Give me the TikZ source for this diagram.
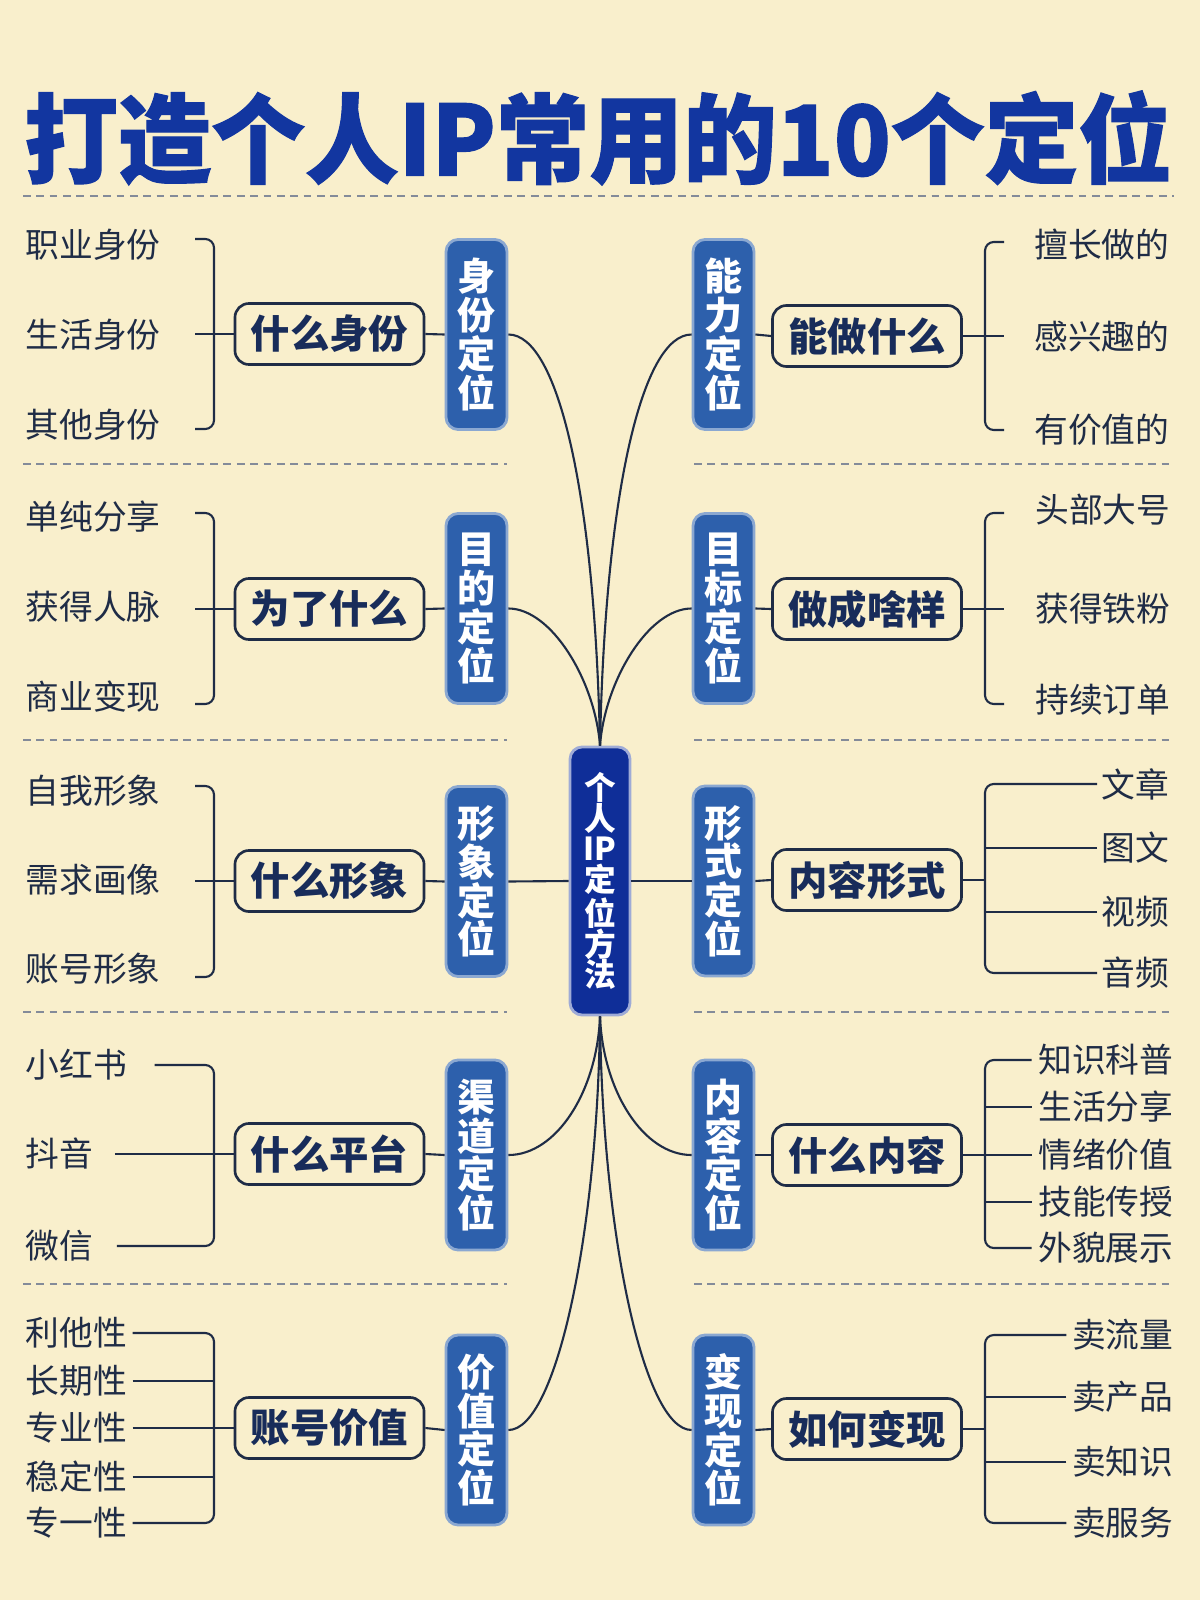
\documentclass[tikz,border=0pt]{standalone}
\usepackage{fontspec}
\setmainfont{Noto Sans CJK SC}
\definecolor{paper}{HTML}{F9EFCC}
\definecolor{ink}{HTML}{1F2C46}
\definecolor{askblue}{HTML}{182C5A}
\definecolor{catblue}{HTML}{2D60AC}
\definecolor{hubblue}{HTML}{0F2E98}
\definecolor{titleblue}{HTML}{1236A0}

\begin{document}
\begin{tikzpicture}[x=.01cm,y=-.01cm,
 item/.style={inner sep=0pt,text=ink,font=\fontsize{9.6}{11}\selectfont},
 ask/.style={draw=ink,line width=.75pt,rounded corners=4pt,fill=paper,minimum width=1.89cm,minimum height=.61cm,inner sep=0pt,text=askblue,font=\bfseries\fontsize{11.2}{13}\selectfont},
 cat/.style={fill=catblue,draw=catblue!55!white,line width=.8pt,rounded corners=3.5pt,minimum width=.61cm,minimum height=1.9cm,inner sep=0pt,align=center,text=white,font=\bfseries\fontsize{10.8}{11}\selectfont},
 hub/.style={cat,fill=hubblue,draw=hubblue!40!white,minimum width=.6cm,minimum height=2.68cm,font=\bfseries\fontsize{9}{8.7}\selectfont},
 link/.style={draw=ink,line width=.6pt},
 brace/.style={link,rounded corners=2.5pt},
 sep/.style={draw=ink!55,line width=.45pt,dash pattern=on 2.2pt off 1.6pt}]
\fill[paper] (0,0) rectangle (1200,1600);
\path[use as bounding box] (0,0) rectangle (1200,1600);
\node[inner sep=0pt,text=titleblue,font=\bfseries\fontsize{27.6}{30}\selectfont\addfontfeature{FakeBold=1.2}] (title) at (598,138) {\scalebox{.965}[1]{打造个人IP常用的10个定位}};
\draw[sep] (23,196)--(1174,196);
\foreach \y in {464,740,1012,1284} {
 \draw[sep] (23,\y)--(507,\y);
 \draw[sep] (694,\y)--(1174,\y);
}

\node[hub] (hub) at (600,881) {个\\人\\IP\\定\\位\\方\\法};

% left column
\node[cat] (c1) at (476.5,334.5) {身\\份\\定\\位};
\node[ask] (q1) at (329.5,334) {什么身份};
\foreach \t/\y [count=\i] in {职业身份/245,生活身份/335,其他身份/425}
 \node[item,anchor=west] (a\i) at (25,\y) {\t};
\coordinate (k1) at (195,334);
\draw[brace] (195,239)--(214,239)--(214,429)--(195,429);
\draw[link] (k1)--(q1.west);
\draw[link] (q1.east)--(c1.west);
\draw[link] (c1.east) .. controls +(50,0) and +(-5,-250) .. (hub.north);

\node[cat] (c2) at (476.5,608.5) {目\\的\\定\\位};
\node[ask] (q2) at (329.5,609) {为了什么};
\foreach \t/\y [count=\i] in {单纯分享/517,获得人脉/607,商业变现/697}
 \node[item,anchor=west] (b\i) at (25,\y) {\t};
\coordinate (k2) at (195,609);
\draw[brace] (195,513)--(214,513)--(214,704)--(195,704);
\draw[link] (k2)--(q2.west);
\draw[link] (q2.east)--(c2.west);
\draw[link] (c2.east) .. controls +(43,0) and +(-5,-65) .. (hub.north);

\node[cat] (c3) at (476.5,881.5) {形\\象\\定\\位};
\node[ask] (q3) at (329.5,881) {什么形象};
\foreach \t/\y [count=\i] in {自我形象/791,需求画像/880,账号形象/969}
 \node[item,anchor=west] (e\i) at (25,\y) {\t};
\coordinate (k3) at (195,881);
\draw[brace] (195,786)--(214,786)--(214,977)--(195,977);
\draw[link] (k3)--(q3.west);
\draw[link] (q3.east)--(c3.west);
\draw[link] (c3.east)--(hub.west);

\node[cat] (c4) at (476.5,1155) {渠\\道\\定\\位};
\node[ask] (q4) at (329.5,1154) {什么平台};
\foreach \t/\y [count=\i] in {小红书/1065,抖音/1154,微信/1246}
 \node[item,anchor=west] (p\i) at (25,\y) {\t};
\coordinate (sp4) at (214,1154);
\draw[brace] ([xshift=.27cm]p1.east) -| (sp4) |- ([xshift=.23cm]p3.east);
\draw[link] ([xshift=.21cm]p2.east)--(q4.west);
\draw[link] (q4.east)--(c4.west);
\draw[link] (c4.east) .. controls +(48,0) and +(-3,75) .. (hub.south);

\node[cat] (c5) at (476.5,1430) {价\\值\\定\\位};
\node[ask] (q5) at (329.5,1428) {账号价值};
\foreach \t/\y [count=\i] in {利他性/1333,长期性/1381,专业性/1428,稳定性/1477,专一性/1523}
 \node[item,anchor=west] (v\i) at (25,\y) {\t};
\coordinate (sp5) at (214,1428);
\draw[brace] ([xshift=.05cm]v1.east) -| (sp5) |- ([xshift=.05cm]v5.east);
\foreach \i in {2,4}
 \draw[link] ([xshift=.05cm]v\i.east)--(v\i.east -| sp5);
\draw[link] ([xshift=.05cm]v3.east)--(q5.west);
\draw[link] (q5.east)--(c5.west);
\draw[link] (c5.east) .. controls +(48,0) and +(-2,215) .. (hub.south);

% right column
\node[cat] (d1) at (723.5,334.5) {能\\力\\定\\位};
\node[ask] (r1) at (867,336) {能做什么};
\foreach \t/\y [count=\i] in {擅长做的/245,感兴趣的/337,有价值的/430}
 \node[item,anchor=east] (g\i) at (1170,\y) {\t};
\coordinate (k6) at (1004,336);
\draw[brace] (1004,242)--(985,242)--(985,430)--(1004,430);
\draw[link] (r1.east)--(k6);
\draw[link] (d1.east)--(r1.west);
\draw[link] (d1.west) .. controls +(-50,0) and +(5,-250) .. (hub.north);

\node[cat] (d2) at (723.5,608.5) {目\\标\\定\\位};
\node[ask] (r2) at (867,609) {做成啥样};
\foreach \t/\y [count=\i] in {头部大号/510,获得铁粉/609,持续订单/700}
 \node[item,anchor=east] (h\i) at (1171,\y) {\t};
\coordinate (k7) at (1004,609);
\draw[brace] (1004,513)--(985,513)--(985,704)--(1004,704);
\draw[link] (r2.east)--(k7);
\draw[link] (d2.east)--(r2.west);
\draw[link] (d2.west) .. controls +(-43,0) and +(5,-65) .. (hub.north);

\node[cat] (d3) at (723.5,881) {形\\式\\定\\位};
\node[ask] (r3) at (867,880) {内容形式};
\foreach \t/\y [count=\i] in {文章/784,图文/848,视频/912,音频/973}
 \node[item,anchor=east] (f\i) at (1170,\y) {\t};
\coordinate (sp8) at (985,880);
\draw[brace] ([xshift=-.04cm]f1.west) -| (sp8) |- ([xshift=-.04cm]f4.west);
\foreach \i in {2,3}
 \draw[link] ([xshift=-.04cm]f\i.west)--(f\i.west -| sp8);
\draw[link] (r3.east)--(sp8);
\draw[link] (d3.east)--(r3.west);
\draw[link] (hub.east)--(d3.west);

\node[cat] (d4) at (723.5,1155) {内\\容\\定\\位};
\node[ask] (r4) at (867,1155) {什么内容};
\foreach \t/\y [count=\i] in {知识科普/1060,生活分享/1107,情绪价值/1155,技能传授/1202,外貌展示/1248}
 \node[item,anchor=east] (m\i) at (1174,\y) {\t};
\coordinate (sp9) at (985,1155);
\draw[brace] ([xshift=-.06cm]m1.west) -| (sp9) |- ([xshift=-.06cm]m5.west);
\foreach \i in {2,4}
 \draw[link] ([xshift=-.06cm]m\i.west)--(m\i.west -| sp9);
\draw[link] (r4.east)--([xshift=-.06cm]m3.west);
\draw[link] (d4.east)--(r4.west);
\draw[link] (d4.west) .. controls +(-48,0) and +(3,75) .. (hub.south);

\node[cat] (d5) at (723.5,1430) {变\\现\\定\\位};
\node[ask] (r5) at (867,1429) {如何变现};
\foreach \t/\y [count=\i] in {卖流量/1335,卖产品/1397,卖知识/1462,卖服务/1523}
 \node[item,anchor=east] (s\i) at (1174,\y) {\t};
\coordinate (sp10) at (985,1429);
\draw[brace] ([xshift=-.05cm]s1.west) -| (sp10) |- ([xshift=-.05cm]s4.west);
\foreach \i in {2,3}
 \draw[link] ([xshift=-.05cm]s\i.west)--(s\i.west -| sp10);
\draw[link] (r5.east)--(sp10);
\draw[link] (d5.east)--(r5.west);
\draw[link] (d5.west) .. controls +(-48,0) and +(2,215) .. (hub.south);
\end{tikzpicture}
\end{document}
